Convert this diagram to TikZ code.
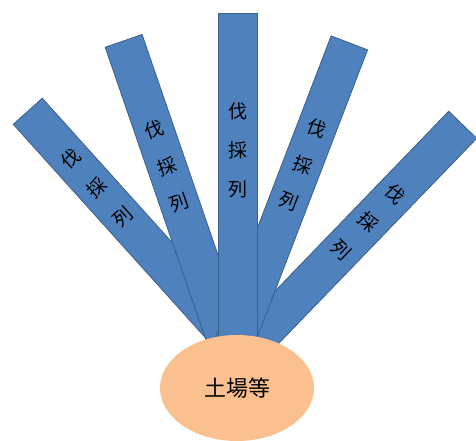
\documentclass[tikz,border=0pt]{standalone}
\usepackage{fontspec}
\newfontfamily\cjk{Noto Sans CJK JP}
\usetikzlibrary{shapes.geometric,calc}
\definecolor{stripblue}{HTML}{4F81BD}
\definecolor{stripedge}{HTML}{3A5F8B}
\definecolor{yardorange}{HTML}{FAC090}

\begin{document}
\begin{tikzpicture}
  [x=1pt,y=1pt,
   strip/.style={rectangle,draw=stripedge,fill=stripblue,line width=0.8pt,inner sep=0pt,minimum width=39pt},
   rowtext/.style={align=center,inner sep=0pt,font=\cjk\fontsize{19}{39}\selectfont},
   yard/.style={ellipse,fill=yardorange,minimum width=154pt,minimum height=106pt,font=\cjk\fontsize{22}{26}\selectfont}]
  \useasboundingbox (0,0) rectangle (476,441);

  \foreach \n/\tx/\ty/\ang/\len/\d in {1/27.5/330/42/330/104, 5/463/316.5/-44/330/136, 2/123.5/400.5/19/350/133, 4/349.5/398.5/-21/330/131, 3/237.5/428/0/340/137}{
    \node[strip,rotate=\ang,anchor=north,minimum height=\len pt] (s\n) at (\tx,\ty) {};
    \node[rowtext,rotate=\ang] (t\n) at ($(s\n.north)!\d pt!(s\n.south)$) {伐\\採\\列};
  }

  \node[yard] (yd) at (237,53) {土場等};

\end{tikzpicture}
\end{document}
